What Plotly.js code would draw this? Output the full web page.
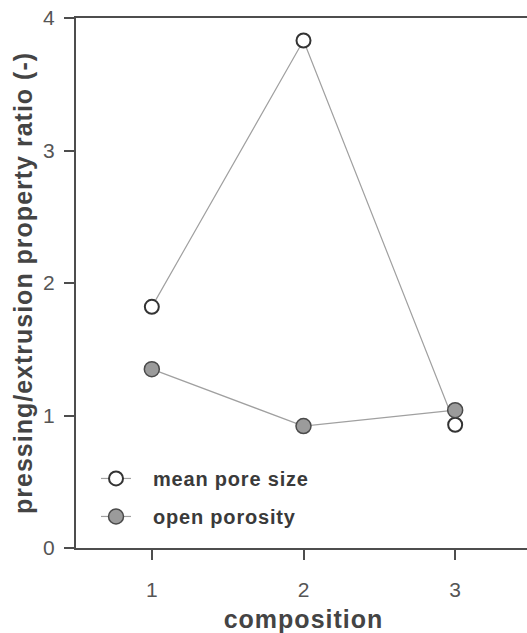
<!DOCTYPE html>
<html>
<head>
<meta charset="utf-8">
<script src="https://cdn.plot.ly/plotly-3.0.1.min.js"></script>
<style>
  html, body { margin: 0; padding: 0; overflow: hidden; background: #fff; }
  #chart { width: 531px; height: 633px; }
  .xtitle, .ytitle { letter-spacing: 1px; }
  .legend, .legend * { clip-path: none !important; }
  .legendtext { letter-spacing: 0.8px; transform: translateX(17px); }
</style>
</head>
<body>
<div id="chart"></div>
<script>
const compositions = [1, 2, 3];
const meanPoreSize = [1.82, 3.83, 0.93];
const openPorosity = [1.35, 0.92, 1.04];
const seriesNames = ['mean pore size', 'open porosity'];
const xTicks = [1, 2, 3];
const yTicks = [0, 1, 2, 3, 4];

const axisColor = '#4d4d4d';
const textColor = '#4a4a4a';

const traces = [
  {
    x: compositions, y: meanPoreSize, name: seriesNames[0],
    type: 'scatter', mode: 'lines+markers',
    line: { color: '#a0a0a0', width: 1.2 },
    marker: { symbol: 'circle', size: 14, color: '#ffffff', line: { color: '#333333', width: 2 } },
    legendgroup: 'a'
  },
  {
    x: compositions, y: openPorosity, name: seriesNames[1],
    type: 'scatter', mode: 'lines+markers',
    line: { color: '#a0a0a0', width: 1.2 },
    marker: { symbol: 'circle', size: 15, color: '#9b9b9b', line: { color: '#4a4a4a', width: 1.5 } },
    legendgroup: 'b'
  }
];

const layout = {
  width: 531, height: 633,
  margin: { l: 76, r: 0, t: 18, b: 85 },
  paper_bgcolor: '#ffffff', plot_bgcolor: '#ffffff',
  font: { family: 'Liberation Sans, Arial, sans-serif', color: textColor },
  showlegend: true,
  legend: {
    x: 0.044, y: 0.168, xanchor: 'left', yanchor: 'top',
    bgcolor: 'rgba(0,0,0,0)', borderwidth: 0,
    font: { size: 20, weight: 'bold', color: '#3a3a3a' },
    tracegroupgap: 9, traceorder: 'grouped', itemwidth: 30
  },
  xaxis: {
    range: [0.5, 3.5], tickvals: xTicks, ticktext: xTicks.map(String),
    showgrid: false, zeroline: false,
    showline: true, linecolor: axisColor, linewidth: 2, mirror: true,
    ticks: 'outside', ticklen: 10, tickwidth: 2, tickcolor: axisColor,
    tickfont: { size: 21, color: '#555555' }, ticklabelstandoff: 12,
    title: { text: 'composition', font: { size: 25, weight: 'bold', color: '#444444' }, standoff: 10 }
  },
  yaxis: {
    range: [0, 4], tickvals: yTicks, ticktext: yTicks.map(String),
    showgrid: false, zeroline: false,
    showline: true, linecolor: axisColor, linewidth: 2, mirror: true,
    ticks: 'outside', ticklen: 10, tickwidth: 2, tickcolor: axisColor,
    tickfont: { size: 21, color: '#555555' }, ticklabelstandoff: 5,
    title: { text: 'pressing/extrusion property ratio (-)', font: { size: 25, weight: 'bold', color: '#444444' }, standoff: 3 }
  }
};

Plotly.newPlot('chart', traces, layout, { displayModeBar: false, staticPlot: true });
</script>
</body>
</html>
